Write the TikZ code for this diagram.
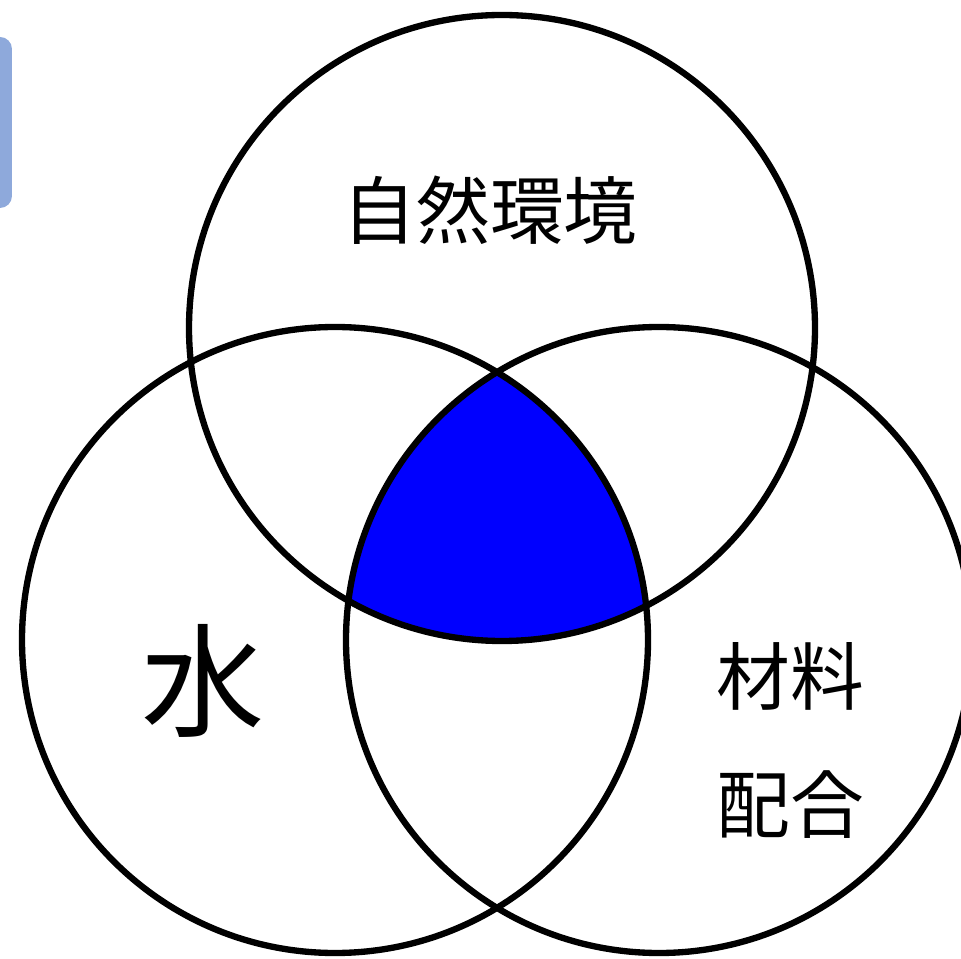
\documentclass[tikz,border=0pt]{standalone}
\usepackage{fontspec}
\setmainfont{Noto Sans CJK JP}
\usetikzlibrary{positioning}
\definecolor{venblue}{HTML}{0000FF}
\definecolor{tabblue}{HTML}{8EA9DB}

\begin{document}
\begin{tikzpicture}[font=\fontsize{21}{25}\selectfont]
    \useasboundingbox (0,0) rectangle (9.61,9.58);
    \clip (0,0) rectangle (9.61,9.58);
    \tikzset{ring/.style={draw=black, line width=1.8pt, circle,
          minimum size=6.26cm, inner sep=0pt}}
    % tab at the left edge
    \node[fill=tabblue, rounded corners=0.12cm, minimum width=0.4cm,
          minimum height=1.71cm, inner sep=0pt] (tab) at (-0.08,8.355) {};
    % centres
    \coordinate (ctop) at (5.02,6.30);
    \coordinate (cleft) at (3.35,3.18);
    \coordinate (cright) at (6.59,3.18);
    % common part
    \begin{scope}
      \clip (ctop) circle (3.13cm);
      \clip (cleft) circle (3.13cm);
      \fill[venblue] (cright) circle (3.13cm);
    \end{scope}
    % RINGS
    \node[ring] (kankyo) at (ctop) {};
    \node[ring] (mizu) at (cleft) {};
    \node[ring] (zairyo) at (cright) {};
    % LABELS
    \node (lkankyo) at (4.90,7.48) {自然環境};
    \node[font=\fontsize{35}{40}\selectfont] (lmizu) at (2.03,2.77) {水};
    \node (lzairyo) at (7.90,2.82) {材料};
    \node (lhaigo) at (7.90,1.53) {配合};
\end{tikzpicture}
\end{document}
